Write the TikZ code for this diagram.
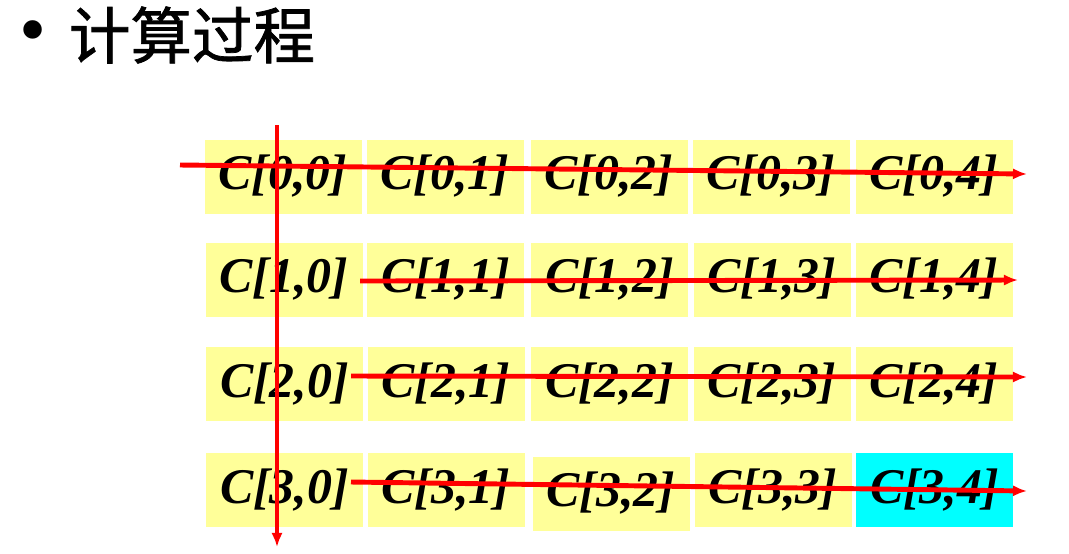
\documentclass[tikz,border=0pt]{standalone}
\usepackage{fontspec}
\setmainfont{Liberation Serif}
\newfontfamily\cjk[FakeBold=1.2]{Noto Sans CJK SC}
\usepackage{tikz}
\usetikzlibrary{arrows.meta}
\definecolor{cellyellow}{RGB}{255,255,153}
\definecolor{cellcyan}{RGB}{0,255,255}

\begin{document}
\begin{tikzpicture}[
    cell/.style={fill=cellyellow, minimum width=1.57cm, minimum height=0.74cm, inner sep=0pt,
      font=\fontsize{14.2}{16}\selectfont\bfseries\itshape},
    sweep/.style={red, line width=1.4pt, -{Latex[length=4pt,width=3.2pt]}}]
      \useasboundingbox (0, 0) rectangle (10.69, 5.53);
      \node [inner sep=0pt] (bullet) at (0.335, 5.15) {\fontsize{22}{22}\selectfont\textbullet};
      \node (title) at (1.92, 5.18) {\cjk\fontsize{17.5}{18}\selectfont 计算过程};
      \node [cell] (c00) at (2.83, 3.765) {C[0,0]};
      \node [cell] (c01) at (4.45, 3.765) {C[0,1]};
      \node [cell] (c02) at (6.09, 3.765) {C[0,2]};
      \node [cell] (c03) at (7.71, 3.765) {C[0,3]};
      \node [cell] (c04) at (9.34, 3.765) {C[0,4]};
      \node [cell] (c10) at (2.84, 2.735) {C[1,0]};
      \node [cell] (c11) at (4.455, 2.735) {C[1,1]};
      \node [cell] (c12) at (6.095, 2.735) {C[1,2]};
      \node [cell] (c13) at (7.72, 2.735) {C[1,3]};
      \node [cell] (c14) at (9.34, 2.735) {C[1,4]};
      \node [cell] (c20) at (2.845, 1.69) {C[2,0]};
      \node [cell] (c21) at (4.46, 1.69) {C[2,1]};
      \node [cell] (c22) at (6.095, 1.69) {C[2,2]};
      \node [cell] (c23) at (7.72, 1.69) {C[2,3]};
      \node [cell] (c24) at (9.34, 1.69) {C[2,4]};
      \node [cell] (c30) at (2.845, 0.63) {C[3,0]};
      \node [cell] (c31) at (4.46, 0.63) {C[3,1]};
      \node [cell] (c32) at (6.11, 0.595) {C[3,2]};
      \node [cell] (c33) at (7.73, 0.63) {C[3,3]};
      \node [cell, fill=cellcyan] (c34) at (9.345, 0.63) {C[3,4]};
      \coordinate (r0s) at (1.80, 3.88);
      \coordinate (r0e) at (10.27, 3.79);
      \coordinate (r1s) at (3.60, 2.72);
      \coordinate (r1e) at (10.18, 2.73);
      \coordinate (r2s) at (3.51, 1.77);
      \coordinate (r2e) at (10.27, 1.76);
      \coordinate (r3s) at (3.51, 0.71);
      \coordinate (r3e) at (10.27, 0.62);
      \coordinate (vs) at (2.77, 4.28);
      \coordinate (ve) at (2.77, 0.06);
      \draw [sweep] (r0s) -- (r0e);
      \draw [sweep] (r1s) -- (r1e);
      \draw [sweep] (r2s) -- (r2e);
      \draw [sweep] (r3s) -- (r3e);
      \draw [sweep] (vs) -- (ve);
    \end{tikzpicture}
\end{document}
